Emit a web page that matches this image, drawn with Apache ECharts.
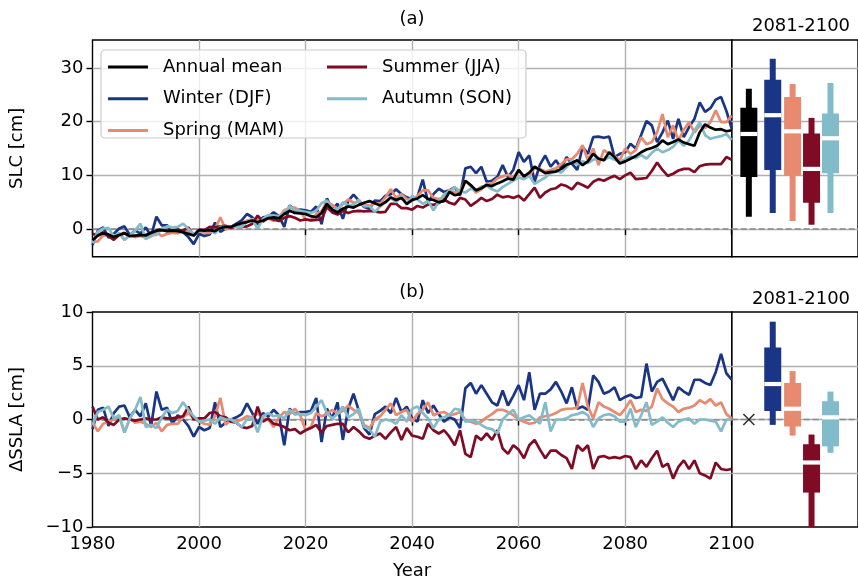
<!DOCTYPE html>
<html><head><meta charset="utf-8">
<script src="https://cdn.jsdelivr.net/npm/echarts@6/dist/echarts.min.js"></script>
<style>html,body{margin:0;padding:0;background:#fff}#c{width:858px;height:582px}</style>
</head><body><div id="c"></div>
<script>
// ---------- DATA ----------
const YEARS = Array.from({length: 121}, (_, i) => 1980 + i);
const SERIES_NAMES = ['Annual mean', 'Winter (DJF)', 'Spring (MAM)', 'Summer (JJA)', 'Autumn (SON)'];

// Panel (a): SLC [cm]
const annualA = [
 -2.1,-1.2,-0.8,-1.0,-1.5,-1.1,-0.8,-1.3,-1.2,-1.1,
 -1.2,-0.7,-0.3,-0.2,-0.4,-0.3,-0.4,-0.6,-0.9,-1.2,
 -0.2,-0.3,-0.2,-0.4,0.2,0.4,0.4,0.8,1.1,1.3,
 1.6,1.3,1.6,2.0,2.2,2.0,2.8,3.4,3.0,2.9,
 2.8,2.4,2.2,3.0,4.7,3.6,3.1,3.8,4.2,4.0,
 4.5,4.9,5.2,4.8,4.4,5.0,5.9,5.4,5.8,4.7,
 5.4,5.7,6.3,5.6,5.4,5.0,5.2,6.9,6.3,6.5,
 9.0,8.2,7.2,7.6,8.2,8.0,8.5,8.9,9.4,9.2,
 11.0,9.8,10.5,11.6,11.0,10.4,10.6,10.7,11.2,12.0,
 12.3,12.8,11.9,12.6,14.0,13.1,12.8,14.3,13.4,12.2,
 12.6,13.1,13.6,14.3,14.8,15.1,15.5,16.5,15.8,16.2,
 16.7,16.1,15.8,15.5,18.0,19.5,18.9,18.5,18.6,18.2,
 18.4];
const winterA = [
 -3.0,-0.3,0.3,-1.6,-0.9,0.1,0.5,-1.1,-0.3,-0.8,
 0.3,-1.3,2.3,0.7,0.7,-0.7,0.0,-0.6,-1.5,-2.8,
 -0.9,-1.3,-1.0,1.2,-0.5,0.1,0.4,1.0,1.6,2.8,
 2.2,0.9,2.2,2.3,3.1,2.4,0.4,4.4,3.5,3.6,
 3.5,3.2,4.2,0.9,5.7,3.7,4.7,1.9,5.2,6.4,
 5.3,4.1,3.8,5.3,5.2,6.2,6.5,7.4,6.5,5.9,
 5.5,6.0,9.2,5.0,6.5,7.5,6.9,7.2,7.8,6.3,
 11.3,11.6,10.4,11.6,8.8,9.0,9.7,11.9,9.7,11.0,
 14.3,12.5,13.7,8.8,12.0,13.7,11.6,12.8,11.3,13.4,
 12.2,11.0,15.3,14.0,17.1,17.2,17.0,17.2,13.4,14.0,
 14.3,15.9,15.0,17.5,20.1,19.3,16.2,18.0,20.2,16.8,
 20.5,17.1,19.0,20.5,23.6,21.8,22.5,24.1,24.6,22.0,
 18.7];
const springA = [
 -2.4,-2.3,-1.2,-1.2,-1.5,-0.8,-2.0,-1.2,-1.5,-1.3,
 -1.6,-1.4,-0.6,-1.3,-0.9,-0.7,-0.8,-0.4,-0.3,-1.1,
 -0.4,-0.7,-0.7,-0.1,2.2,-0.1,0.4,0.6,1.1,1.6,
 1.8,1.9,1.7,2.0,1.5,2.2,3.5,3.9,4.0,3.3,
 1.8,1.7,2.8,3.3,5.2,4.5,3.7,4.6,5.5,4.9,
 5.1,4.4,4.4,4.8,4.7,5.9,7.4,5.8,6.5,5.6,
 5.2,6.2,7.2,7.2,5.8,5.6,5.9,7.3,6.8,7.2,
 8.9,8.0,6.8,7.4,8.4,8.5,9.4,9.8,10.1,9.6,
 11.0,9.6,10.1,11.3,11.2,10.7,11.0,11.3,12.1,13.0,
 13.0,14.0,15.6,12.8,15.0,11.9,14.7,14.0,13.6,12.8,
 15.0,14.0,14.7,17.1,15.8,16.2,18.0,21.4,17.1,19.3,
 16.5,18.5,19.9,18.0,19.3,18.8,19.9,22.1,19.9,19.9,
 21.1];
const summerA = [
 -0.9,-1.2,-0.6,-1.3,-2.0,-1.1,-0.7,-1.3,-1.3,-1.1,
 -1.1,-0.7,-0.3,0.0,-0.3,-0.2,-0.2,-0.3,0.3,-1.2,
 -0.1,-0.2,0.4,0.3,0.5,0.6,0.2,0.5,0.4,0.5,
 1.0,2.5,1.4,2.1,1.8,1.5,2.1,2.4,2.1,1.6,
 1.8,1.6,1.7,1.8,4.1,3.1,2.7,3.4,3.0,3.3,
 3.4,3.3,3.4,3.3,3.1,3.2,4.7,4.7,3.9,3.9,
 3.6,4.3,4.0,4.6,4.5,4.8,5.5,4.9,4.6,5.8,
 5.5,4.3,5.0,5.8,5.2,5.6,6.4,5.9,6.1,5.8,
 6.2,5.3,6.5,7.7,5.8,6.8,7.4,7.6,8.3,8.0,
 7.4,8.6,8.2,7.7,8.8,9.3,9.0,9.5,9.9,9.3,
 10.0,10.5,9.3,9.4,9.5,10.8,12.4,11.0,9.9,10.3,
 10.9,11.2,11.2,10.6,11.7,12.0,12.1,12.1,12.1,13.4,
 12.9];
const autumnA = [
 -2.6,-0.5,0.1,0.2,-1.4,-0.7,-2.0,-1.2,-0.3,1.0,
 -1.9,-1.2,-1.1,0.0,0.5,0.3,0.4,1.0,0.0,-0.9,
 -0.4,-0.4,-0.2,-0.8,0.4,0.4,0.4,0.5,0.4,1.3,
 1.8,0.1,1.9,2.6,2.5,2.4,2.9,4.3,3.5,3.4,
 3.2,3.0,3.4,4.8,5.3,3.7,3.6,5.0,4.4,4.5,
 5.5,4.2,4.3,3.2,4.2,5.0,5.8,5.0,6.2,4.5,
 6.2,5.5,4.7,5.2,3.5,5.0,6.5,7.0,7.8,7.0,
 6.8,7.5,7.2,7.9,8.1,7.4,7.0,7.8,8.4,9.0,
 9.6,9.3,9.9,8.4,9.0,9.6,10.4,10.9,10.5,11.5,
 12.8,12.0,12.6,12.3,12.9,13.2,12.8,13.4,12.9,12.5,
 13.0,13.5,13.2,13.8,13.1,14.2,15.0,14.3,14.7,15.3,
 16.5,15.5,16.5,18.3,19.9,17.5,16.8,17.1,17.3,17.7,
 16.6];

// Panel (b): ΔSSLA [cm]
const winterB = [
 -0.9,0.9,1.1,-0.6,0.6,1.2,1.3,0.2,0.9,0.3,
 1.5,-0.6,2.6,0.9,1.1,-0.4,0.4,0.0,-0.6,-1.6,
 -0.7,-1.0,-0.8,1.6,-0.7,-0.3,0.0,0.2,0.5,1.5,
 0.6,-0.4,0.6,0.3,0.9,0.4,-2.4,1.0,0.5,0.7,
 0.7,0.8,2.0,-2.1,1.0,0.1,1.6,-1.9,1.0,2.4,
 0.8,-0.8,-1.4,0.5,0.8,1.2,0.6,2.0,0.7,1.2,
 0.1,-0.2,1.8,0.6,1.3,0.5,-0.2,0.2,0.0,-0.8,
 2.9,3.4,2.4,3.2,2.4,1.6,1.3,2.7,1.3,2.2,
 3.2,1.8,4.4,0.9,2.4,2.4,2.8,3.5,2.6,1.5,
 3.0,1.0,1.2,0.9,4.1,3.5,2.4,2.6,3.0,1.8,
 2.1,2.3,2.0,2.1,5.2,2.6,3.5,3.8,2.8,1.8,
 3.0,2.6,2.3,3.7,3.7,3.4,3.2,4.4,6.1,4.3,
 3.7];
const springB = [
 -0.3,-1.1,-0.4,-0.2,0.0,0.3,-1.2,0.1,-0.3,-0.2,
 -0.4,-0.7,-0.3,-1.1,-0.5,-0.4,-0.4,0.2,0.6,0.1,
 -0.2,-0.4,-0.5,0.3,2.0,-0.5,0.0,-0.2,0.0,0.3,
 0.2,0.6,0.1,0.0,-0.7,0.2,0.7,0.5,1.0,0.4,
 -1.0,-0.7,0.6,0.3,0.5,0.9,0.6,0.8,1.3,0.9,
 0.6,-0.5,-0.8,0.0,0.3,0.9,1.5,0.4,0.7,0.9,
 -0.2,0.5,0.9,1.6,0.4,0.6,0.7,0.4,0.5,0.7,
 -0.1,-0.2,-0.4,-0.2,0.2,0.5,0.9,0.9,0.7,0.4,
 0.0,-0.2,-0.4,-0.3,0.2,0.3,0.4,0.6,0.9,1.0,
 1.0,1.1,3.4,1.2,0.1,1.6,1.2,1.0,0.7,0.4,
 1.0,1.8,0.7,0.9,0.8,1.2,2.9,1.9,1.5,1.2,
 0.7,1.0,1.1,1.3,1.8,1.5,1.9,1.3,1.6,0.5,
 0.1];
const summerB = [
 1.2,0.0,0.2,-0.3,-0.5,0.0,0.1,0.0,-0.1,0.0,
 0.1,0.0,0.0,0.2,0.1,0.1,0.2,0.3,1.2,0.0,
 0.1,0.1,0.6,0.7,0.3,0.2,-0.2,-0.3,-0.7,-0.8,
 -0.6,1.2,-0.2,0.1,-0.4,-0.5,-0.7,-1.0,-0.9,-1.3,
 -1.0,-0.8,-0.5,-1.2,-0.6,-0.5,-0.4,-0.4,-1.2,-0.7,
 -1.1,-1.6,-1.8,-1.5,-1.3,-1.8,-1.2,-0.7,-1.9,-0.8,
 -1.5,-1.6,-1.8,-0.4,-1.0,-1.3,-1.0,-1.6,-2.4,-1.0,
 -3.2,-3.5,-1.5,-1.9,-1.3,-1.9,-1.0,-2.7,-3.2,-2.4,
 -2.8,-3.6,-2.4,-1.9,-2.8,-3.6,-2.9,-2.9,-3.3,-3.6,
 -4.6,-2.4,-2.9,-2.4,-4.6,-3.5,-3.4,-3.6,-3.5,-3.6,
 -3.4,-3.5,-4.6,-3.8,-4.4,-3.6,-2.9,-4.4,-4.1,-5.5,
 -4.4,-3.8,-4.6,-3.8,-5.0,-5.2,-5.5,-4.0,-4.6,-4.7,
 -4.6];
const autumnB = [
 -0.5,0.7,0.9,1.2,0.1,0.4,-1.2,0.1,0.9,2.1,
 -0.7,-0.5,-0.8,0.2,0.9,0.6,0.8,1.6,0.9,0.3,
 -0.2,-0.1,0.0,-0.4,0.2,0.0,0.0,-0.3,-0.7,0.0,
 0.2,-1.2,0.3,0.6,0.3,0.4,0.1,0.9,0.5,0.5,
 0.4,0.6,1.2,1.8,0.6,0.1,0.5,1.2,0.2,0.5,
 1.0,-0.7,-0.9,-1.6,-0.2,0.0,-0.1,-0.4,0.4,-0.2,
 1.0,1.2,0.6,0.1,-0.8,0.0,0.2,0.4,1.0,0.9,
 -0.2,-0.1,-0.2,-0.5,-0.8,-0.9,-1.3,0.0,0.5,0.9,
 0.0,0.2,0.4,0.0,-0.4,1.6,-1.1,0.0,0.0,0.1,
 0.4,0.5,0.7,0.4,-0.7,0.1,0.4,0.5,0.3,-0.2,
 -0.2,1.0,-0.7,0.4,1.6,-0.5,-0.2,0.2,-0.3,-0.7,
 -0.2,0.0,0.1,-0.4,0.0,0.0,-0.1,-0.2,-1.1,0.0,
 0.0];

// 2081-2100 distributions (order: Annual, Winter, Spring, Summer, Autumn)
const sideA_low  = [2.3, 3.0, 1.5, 0.8, 3.0];
const sideA_q1   = [9.7, 11.0, 9.9, 4.9, 10.4];
const sideA_med  = [17.7, 21.2, 18.2, 11.2, 16.9];
const sideA_q3   = [22.6, 27.8, 24.6, 17.8, 21.5];
const sideA_high = [26.1, 31.7, 27.0, 20.7, 27.2];
const sideB_annual = 0;
const sideB_low  = [-0.5, -1.5, -10.0, -3.1];
const sideB_q1   = [0.8, -0.65, -6.8, -2.5];
const sideB_med  = [3.3, 1.0, -4.0, 0.2];
const sideB_q3   = [6.7, 3.4, -2.3, 1.7];
const sideB_high = [9.1, 4.5, -1.4, 2.6];

// ---------- STYLE / LAYOUT ----------
const COLORS = ['#000000', '#1a3586', '#e88a6f', '#7f0b25', '#82bbca'];
const FONT = 'DejaVu Sans';
const FS = 18;
const SIDE_X = [19, 45.5, 67.5, 88.5, 109.5]; // box positions within side panel
const GRID_L = 92.5, GRID_W = 639.2, SIDE_W = 140;
const TOP_A = 40, H_A = 216.7, TOP_B = 312, H_B = 215;

const chart = echarts.init(document.getElementById('c'), null, {renderer: 'canvas'});

function pairs(vals) { return YEARS.map((y, i) => [y, vals[i]]); }
const minusFmt = v => String(v).replace('-', '\u2212');

function renderBox(params, api) {
  const x = api.value(0);
  const lo = api.coord([x, api.value(1)]);
  const q1 = api.coord([x, api.value(2)]);
  const md = api.coord([x, api.value(3)]);
  const q3 = api.coord([x, api.value(4)]);
  const hi = api.coord([x, api.value(5)]);
  const color = api.visual('color');
  const cx = lo[0];
  return {
    type: 'group',
    children: [
      {type: 'rect', shape: {x: cx - 3, y: hi[1], width: 6, height: lo[1] - hi[1]}, style: {fill: color}},
      {type: 'rect', shape: {x: cx - 8.5, y: q3[1], width: 17, height: q1[1] - q3[1]}, style: {fill: color}},
      {type: 'rect', shape: {x: cx - 8.5, y: md[1] - 2.1, width: 17, height: 4.2}, style: {fill: '#ffffff'}}
    ]
  };
}

const boxDataA = SERIES_NAMES.map((n, i) => ({
  value: [SIDE_X[i], sideA_low[i], sideA_q1[i], sideA_med[i], sideA_q3[i], sideA_high[i]],
  itemStyle: {color: COLORS[i]}
}));
const boxDataB = [1, 2, 3, 4].map((k, j) => ({
  value: [SIDE_X[k], sideB_low[j], sideB_q1[j], sideB_med[j], sideB_q3[j], sideB_high[j]],
  itemStyle: {color: COLORS[k]}
}));

const gridLine = {show: true, showMinLine: false, showMaxLine: false, lineStyle: {color: '#b0b0b0', width: 1.4}};
const tick = {show: true, length: 6, lineStyle: {color: '#000', width: 1.4}};
const lbl = {color: '#000', fontSize: FS, fontFamily: FONT};
const zeroLine = {
  silent: true, symbol: 'none', label: {show: false},
  lineStyle: {color: '#888888', type: [6, 3], width: 1.5},
  data: [{yAxis: 0}]
};

const seriesA = [annualA, winterA, springA, summerA, autumnA];
const seriesB = [null, winterB, springB, summerB, autumnB];
const drawOrder = [1, 2, 3, 4, 0];
const LW = 2.7;

const series = [];
drawOrder.forEach(i => {
  series.push({
    name: SERIES_NAMES[i], type: 'line', xAxisIndex: 0, yAxisIndex: 0,
    data: pairs(seriesA[i]), showSymbol: false, symbol: 'none',
    lineStyle: {color: COLORS[i], width: LW}, itemStyle: {color: COLORS[i]},
    z: 3, markLine: i === 1 ? Object.assign({}, zeroLine, {z: 1}) : undefined
  });
  if (seriesB[i]) {
    series.push({
      name: SERIES_NAMES[i], type: 'line', xAxisIndex: 2, yAxisIndex: 2,
      data: pairs(seriesB[i]), showSymbol: false, symbol: 'none',
      lineStyle: {color: COLORS[i], width: LW}, itemStyle: {color: COLORS[i]},
      z: 3, markLine: i === 1 ? Object.assign({}, zeroLine, {z: 1}) : undefined
    });
  }
});
// zero reference lines in side panels
[1, 3].forEach(ax => series.push({
  type: 'line', xAxisIndex: ax, yAxisIndex: ax, data: [[0, 0], [SIDE_W, 0]],
  showSymbol: false, symbol: 'none', silent: true, z: 1,
  lineStyle: {color: '#888888', type: [6, 3], width: 1.5}
}));
series.push({type: 'custom', xAxisIndex: 1, yAxisIndex: 1, renderItem: renderBox, data: boxDataA, z: 3, silent: true});
series.push({type: 'custom', xAxisIndex: 3, yAxisIndex: 3, renderItem: renderBox, data: boxDataB, z: 3, silent: true});
series.push({
  type: 'scatter', xAxisIndex: 3, yAxisIndex: 3, data: [[SIDE_X[0], sideB_annual]],
  symbol: 'path://M0,0L10,10M10,0L0,10', symbolSize: 11, silent: true, z: 4,
  itemStyle: {color: 'none', borderColor: '#000', borderWidth: 1.6}
});

const mainX = (gi, showLabels) => ({
  gridIndex: gi, type: 'value', min: 1980, max: 2100, interval: 20,
  axisLine: {show: false}, axisTick: tick, splitLine: gridLine,
  axisLabel: Object.assign({show: showLabels, margin: 8, formatter: v => String(v)}, lbl),
  name: showLabels ? 'Year' : '', nameLocation: 'middle', nameGap: 35,
  nameTextStyle: {color: '#000', fontSize: FS, fontFamily: FONT}
});
const sideX = gi => ({gridIndex: gi, type: 'value', min: 0, max: SIDE_W, show: false});
const mainY = (gi, min, max, name, interval) => ({
  gridIndex: gi, type: 'value', min: min, max: max, interval: interval,
  axisLine: {show: false}, axisTick: tick, splitLine: gridLine,
  axisLabel: Object.assign({margin: 9, showMinLabel: interval ? true : false, showMaxLabel: interval ? true : false, formatter: minusFmt}, lbl),
  name: name, nameLocation: 'middle', nameGap: 66, nameRotate: 90,
  nameTextStyle: {color: '#000', fontSize: FS, fontFamily: FONT}
});
const sideY = (gi, min, max, interval) => ({
  gridIndex: gi, type: 'value', min: min, max: max, interval: interval,
  axisLine: {show: false}, axisTick: {show: false}, axisLabel: {show: false}, splitLine: gridLine
});

const yMinA = -5.15, yMaxA = 35.2;
const legendText = {color: '#000', fontSize: FS, fontFamily: FONT, lineHeight: 14, padding: [0, 0, 0, 10]};

chart.setOption({
  animation: false,
  backgroundColor: '#ffffff',
  grid: [
    {left: GRID_L, top: TOP_A, width: GRID_W, height: H_A, show: true, borderColor: '#000', borderWidth: 1.4},
    {left: GRID_L + GRID_W, top: TOP_A, width: SIDE_W, height: H_A, show: true, borderColor: '#000', borderWidth: 1.4},
    {left: GRID_L, top: TOP_B, width: GRID_W, height: H_B, show: true, borderColor: '#000', borderWidth: 1.4},
    {left: GRID_L + GRID_W, top: TOP_B, width: SIDE_W, height: H_B, show: true, borderColor: '#000', borderWidth: 1.4}
  ],
  xAxis: [mainX(0, false), sideX(1), mainX(2, true), sideX(3)],
  yAxis: [
    mainY(0, yMinA, yMaxA, 'SLC [cm]', undefined),
    sideY(1, yMinA, yMaxA, undefined),
    mainY(2, -10, 10, '\u0394SSLA [cm]', 5),
    sideY(3, -10, 10, 5)
  ],
  legend: [
    {data: SERIES_NAMES.slice(0, 3), orient: 'vertical', left: 108, top: 58, padding: 0,
     itemWidth: 40, itemHeight: 3, itemGap: 13.7, icon: 'rect', textStyle: legendText, z: 6},
    {data: SERIES_NAMES.slice(3), orient: 'vertical', left: 327, top: 58, padding: 0,
     itemWidth: 40, itemHeight: 3, itemGap: 13.7, icon: 'rect', textStyle: legendText, z: 6}
  ],
  graphic: [
    {type: 'rect', z: 5, shape: {x: 101, y: 50, width: 425, height: 88, r: 4},
     style: {fill: 'rgba(255,255,255,0.8)', stroke: '#cccccc', lineWidth: 1.2}},
    {type: 'text', z: 6, style: {text: '(a)', x: 412, y: 19, align: 'center', verticalAlign: 'middle', fontSize: FS, fontFamily: FONT, fill: '#000'}},
    {type: 'text', z: 6, style: {text: '2081-2100', x: 801, y: 26, align: 'center', verticalAlign: 'middle', fontSize: FS, fontFamily: FONT, fill: '#000'}},
    {type: 'text', z: 6, style: {text: '(b)', x: 412, y: 292, align: 'center', verticalAlign: 'middle', fontSize: FS, fontFamily: FONT, fill: '#000'}},
    {type: 'text', z: 6, style: {text: '2081-2100', x: 801, y: 299, align: 'center', verticalAlign: 'middle', fontSize: FS, fontFamily: FONT, fill: '#000'}}
  ],
  series: series
});
</script>
</body></html>
